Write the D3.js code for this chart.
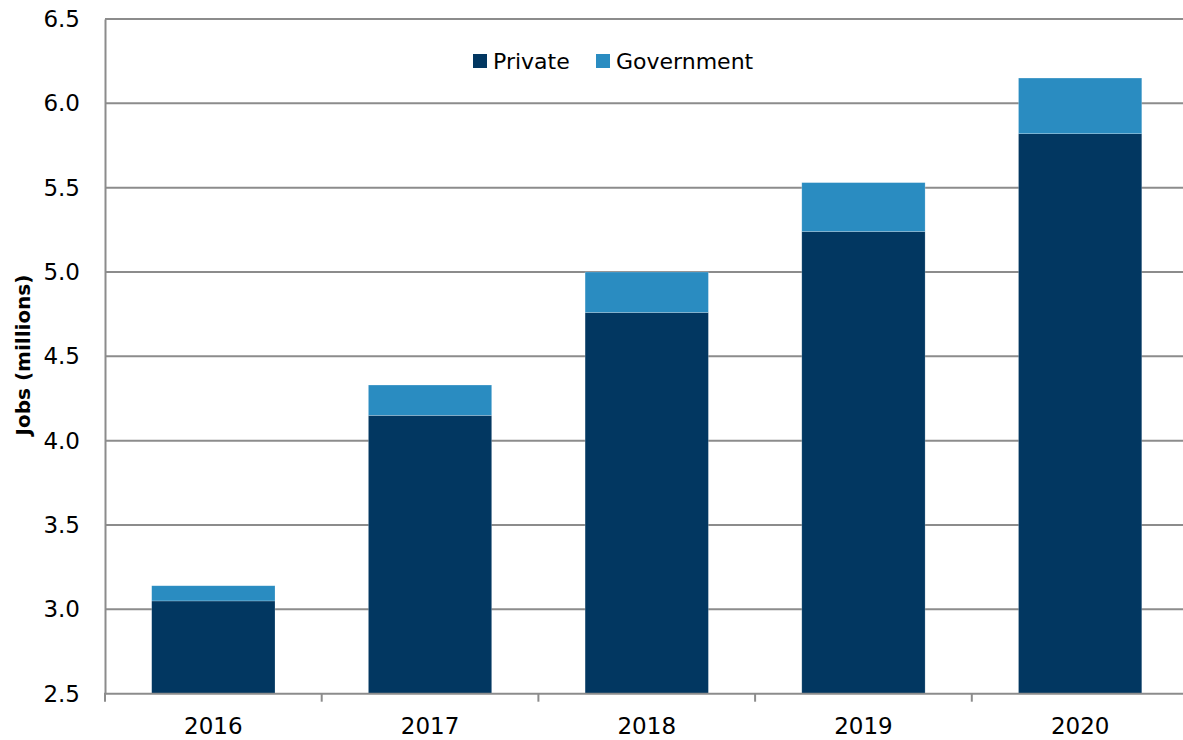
<!DOCTYPE html>
<html>
<head>
<meta charset="utf-8">
<script src="https://cdn.jsdelivr.net/npm/d3@7"></script>
<style>
  html, body { margin: 0; padding: 0; background: #fff; }
  svg { display: block; font-family: "DejaVu Sans", "Liberation Sans", Arial, sans-serif; }
</style>
</head>
<body>
<svg id="chart" width="1183" height="740"></svg>
<script>
// Jobs by sector, millions
const years = ["2016", "2017", "2018", "2019", "2020"];
const privateJobs = [3.05, 4.15, 4.76, 5.24, 5.82];
const governmentJobs = [0.09, 0.18, 0.24, 0.29, 0.33];
const yTicks = [2.5, 3.0, 3.5, 4.0, 4.5, 5.0, 5.5, 6.0, 6.5];
const seriesNames = ["Private", "Government"];
const seriesColors = ["#023761", "#2a8cc1"];

const svg = d3.select("#chart");
const plotLeft = 105, plotTop = 19, plotBottom = 693.7;
const bandWidth = 216.7;

const x = d3.scaleBand()
  .domain(years)
  .range([plotLeft, plotLeft + bandWidth * years.length])
  .paddingInner(0.431)
  .paddingOuter(0.2155);

const y = d3.scaleLinear().domain([2.5, 6.5]).range([plotBottom, plotTop]);

const rows = years.map((yr, i) => ({ year: yr, Private: privateJobs[i], Government: governmentJobs[i] }));
const stacked = d3.stack().keys(seriesNames)(rows);

// Gridlines
svg.append("g")
  .selectAll("line")
  .data(yTicks.filter(t => t > 2.5))
  .join("line")
  .attr("x1", plotLeft).attr("x2", 1183)
  .attr("y1", d => y(d)).attr("y2", d => y(d))
  .attr("stroke", "#8c8c8c").attr("stroke-width", 2);

// Stacked bars (stack baseline clipped to axis minimum)
svg.append("g")
  .selectAll("g")
  .data(stacked)
  .join("g")
  .attr("fill", (d, i) => seriesColors[i])
  .selectAll("rect")
  .data(d => d)
  .join("rect")
  .attr("x", d => x(d.data.year))
  .attr("width", x.bandwidth())
  .attr("y", d => y(d[1]))
  .attr("height", d => y(Math.max(d[0], 2.5)) - y(d[1]))
  .attr("stroke", "rgba(255,255,255,0.35)")
  .attr("stroke-width", 0.6);

// Y axis
const yAxis = svg.append("g")
  .attr("transform", `translate(${plotLeft},0)`)
  .call(d3.axisLeft(y).tickValues(yTicks).tickFormat(d3.format(".1f")).tickSize(0).tickPadding(25));
yAxis.select(".domain").attr("stroke", "#8c8c8c").attr("stroke-width", 2);
yAxis.selectAll("text").attr("font-size", 23).attr("fill", "#000").attr("font-family", "DejaVu Sans");

// X axis line and category boundary ticks
const xAxis = svg.append("g")
  .attr("transform", `translate(0,${plotBottom})`)
  .call(d3.axisBottom(x).tickSize(0).tickPadding(24));
xAxis.select(".domain").remove();
xAxis.selectAll("text").attr("font-size", 23).attr("fill", "#000").attr("font-family", "DejaVu Sans");
svg.append("line")
  .attr("x1", plotLeft - 1).attr("x2", 1183)
  .attr("y1", plotBottom).attr("y2", plotBottom)
  .attr("stroke", "#8c8c8c").attr("stroke-width", 2);
svg.append("g")
  .selectAll("line")
  .data(d3.range(years.length + 1))
  .join("line")
  .attr("x1", i => plotLeft + i * bandWidth).attr("x2", i => plotLeft + i * bandWidth)
  .attr("y1", plotBottom).attr("y2", plotBottom + 8)
  .attr("stroke", "#8c8c8c").attr("stroke-width", 2);

// Y axis title
svg.append("text")
  .attr("transform", `translate(30,355) rotate(-90)`)
  .attr("text-anchor", "middle")
  .attr("font-size", 20)
  .attr("font-weight", "bold")
  .attr("fill", "#000")
  .text("Jobs (millions)");

// Legend
const legendX = [473, 596];
const legend = svg.append("g")
  .selectAll("g")
  .data(seriesNames)
  .join("g")
  .attr("transform", (d, i) => `translate(${legendX[i]},54)`);
legend.append("rect")
  .attr("width", 14).attr("height", 14)
  .attr("fill", (d, i) => seriesColors[i]);
legend.append("text")
  .attr("x", 20).attr("y", 15)
  .attr("font-size", 22)
  .attr("fill", "#000")
  .text(d => d);
</script>
</body>
</html>
